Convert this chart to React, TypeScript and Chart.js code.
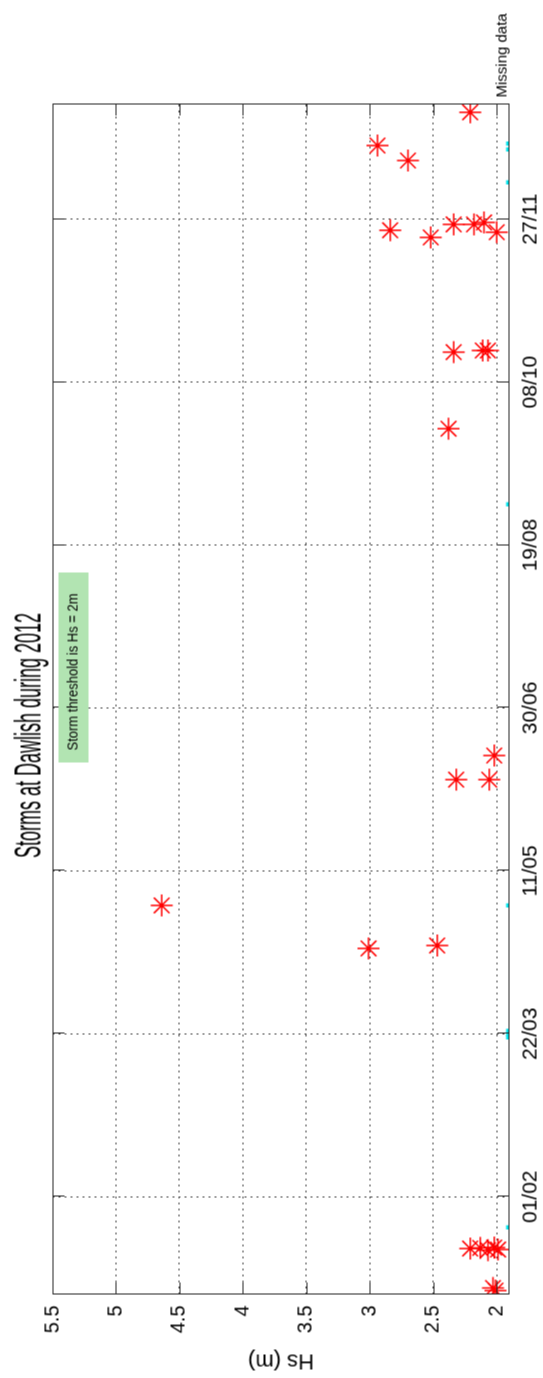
import React, { useEffect, useRef } from 'react';
import { Chart, registerables } from 'chart.js';

Chart.register(...registerables);

const titleText = 'Storms at Dawlish during 2012';
const yAxisTitle = 'Hs (m)';
const noteText = 'Storm threshold is Hs = 2m';
const missingLabel = 'Missing data';

// x = day of year 2012 (0 = 1 Jan)
const dateTickDays = [31, 81, 131, 181, 231, 281, 331];
const dateTickLabels = ['01/02', '22/03', '11/05', '30/06', '19/08', '08/10', '27/11'];
const hsTicks = [2, 2.5, 3, 3.5, 4, 4.5, 5, 5.5];
const hsTickLabels = ['2', '2.5', '3', '3.5', '4', '4.5', '5', '5.5'];

const stormDays = [
  2.2, 3.0,
  15.1, 15.3, 14.6, 15.4, 14.8,
  107.2, 108.1, 120.4,
  159.0, 159.0, 166.4,
  266.7, 290.2, 290.7, 290.7,
  325.4, 327.6, 329.4, 329.4, 330.0, 327.0,
  349.0, 353.6, 363.8,
];
const stormHs = [
  2.01, 2.03,
  2.21, 2.13, 2.07, 2.02, 1.99,
  3.01, 2.47, 4.64,
  2.32, 2.06, 2.02,
  2.38, 2.34, 2.11, 2.07,
  2.52, 2.84, 2.34, 2.18, 2.10, 2.00,
  2.70, 2.94, 2.21,
];

const missingDays = [21.6, 79.9, 80.9, 81.9, 120.4, 243.5, 342.3, 352.4, 354.2];
const missingHs = [1.91, 1.91, 1.91, 1.91, 1.91, 1.91, 1.91, 1.91, 1.91];

const W = 1378;
const H = 543;
const FONT = "'Liberation Sans', Arial, Helvetica, sans-serif";

export default function App() {
  const ref = useRef<HTMLCanvasElement>(null);

  useEffect(() => {
    document.body.style.margin = '0';
    const canvas = ref.current!;

    const overlay = {
      id: 'overlay',
      afterDraw(chart: any) {
        const { ctx, chartArea: a, scales } = chart;
        const xs = scales.x;
        const ys = scales.y;
        ctx.save();
        // axes box
        ctx.strokeStyle = '#262626';
        ctx.lineWidth = 1;
        ctx.strokeRect(a.left + 0.5, a.top + 0.5, a.right - a.left - 1, a.bottom - a.top - 1);
        // inward ticks
        ctx.beginPath();
        const tl = 12;
        dateTickDays.forEach((d) => {
          const px = Math.round(xs.getPixelForValue(d)) + 0.5;
          ctx.moveTo(px, a.bottom);
          ctx.lineTo(px, a.bottom - tl);
          ctx.moveTo(px, a.top);
          ctx.lineTo(px, a.top + tl);
        });
        hsTicks.forEach((v) => {
          const py = Math.round(ys.getPixelForValue(v)) + 0.5;
          ctx.moveTo(a.left, py);
          ctx.lineTo(a.left + tl, py);
          ctx.moveTo(a.right, py);
          ctx.lineTo(a.right - tl, py);
        });
        ctx.stroke();

        // title
        ctx.fillStyle = '#000';
        ctx.save();
        ctx.font = `18px ${FONT}`;
        ctx.textAlign = 'center';
        ctx.textBaseline = 'alphabetic';
        ctx.translate(643, 40);
        ctx.scale(1, 2.0);
        ctx.fillText(titleText, 0, 0);
        ctx.restore();

        // y axis title
        ctx.save();
        ctx.font = `22px ${FONT}`;
        ctx.textAlign = 'center';
        ctx.textBaseline = 'middle';
        ctx.translate(17.5, (a.top + a.bottom) / 2);
        ctx.rotate(-Math.PI / 2);
        ctx.fillText(yAxisTitle, 0, 0);
        ctx.restore();

        // missing data label
        ctx.save();
        ctx.font = `15px ${FONT}`;
        ctx.textAlign = 'left';
        ctx.textBaseline = 'alphabetic';
        ctx.fillText(missingLabel, 1281, 506);
        ctx.restore();

        // threshold note box
        ctx.save();
        ctx.fillStyle = 'rgb(178,228,178)';
        ctx.fillRect(616, 58, 190, 30);
        ctx.fillStyle = '#000';
        ctx.font = `13px ${FONT}`;
        ctx.textAlign = 'left';
        ctx.textBaseline = 'middle';
        ctx.translate(628, 73);
        ctx.scale(1, 1.15);
        ctx.fillText(noteText, 0, 0);
        ctx.restore();

        ctx.restore();
      },
    };

    const chart = new Chart(canvas, {
      type: 'scatter',
      data: {
        datasets: [
          {
            label: 'Storms',
            data: stormDays.map((d, i) => ({ x: d, y: stormHs[i] })),
            pointStyle: 'star',
            pointRadius: 11,
            pointHoverRadius: 11,
            borderColor: '#ff0000',
            backgroundColor: '#ff0000',
            pointBorderWidth: 1.5,
          },
          {
            label: missingLabel,
            data: missingDays.map((d, i) => ({ x: d, y: missingHs[i] })),
            pointStyle: 'rect',
            pointRadius: 3,
            pointHoverRadius: 3,
            borderWidth: 0,
            pointBorderWidth: 0,
            backgroundColor: 'rgb(0,228,236)',
            borderColor: 'rgb(0,228,236)',
          },
        ],
      },
      options: {
        responsive: false,
        animation: false,
        events: [],
        layout: { padding: { left: 0, top: 52, right: 103, bottom: 0 } },
        plugins: {
          legend: { display: false },
          tooltip: { enabled: false },
          title: { display: false },
        },
        scales: {
          x: {
            type: 'linear',
            min: 1,
            max: 366.5,
            afterFit: (s: any) => {
              s.height = 34;
            },
            afterBuildTicks: (s: any) => {
              s.ticks = dateTickDays.map((v) => ({ value: v }));
            },
            ticks: {
              autoSkip: false,
              maxRotation: 0,
              minRotation: 0,
              padding: 9,
              color: '#000',
              font: { family: FONT, size: 21 },
              callback: (v: any) => {
                const i = dateTickDays.indexOf(Number(v));
                return i >= 0 ? dateTickLabels[i] : '';
              },
            },
            grid: { color: '#444', lineWidth: 1, drawTicks: false },
            border: { display: false, dash: [2, 4] },
          },
          y: {
            type: 'linear',
            min: 1.9,
            max: 5.5,
            afterFit: (s: any) => {
              s.width = 84;
            },
            afterBuildTicks: (s: any) => {
              s.ticks = hsTicks.map((v) => ({ value: v }));
            },
            ticks: {
              autoSkip: false,
              padding: 11,
              color: '#000',
              font: { family: FONT, size: 20 },
              callback: (v: any) => {
                const i = hsTicks.indexOf(Number(v));
                return i >= 0 ? hsTickLabels[i] : '';
              },
            },
            grid: { color: '#444', lineWidth: 1, drawTicks: false },
            border: { display: false, dash: [2, 4] },
          },
        },
      },
      plugins: [overlay],
    } as any);

    return () => chart.destroy();
  }, []);

  return (
    <div
      style={{
        position: 'absolute',
        left: 0,
        top: 0,
        width: 543,
        height: 1378,
        overflow: 'hidden',
        background: '#fff',
      }}
    >
      <div
        style={{
          position: 'absolute',
          left: (543 - W) / 2,
          top: (1378 - H) / 2,
          width: W,
          height: H,
          transform: 'rotate(-90deg)',
          transformOrigin: '50% 50%',
        }}
      >
        <canvas ref={ref} width={W} height={H} style={{ display: 'block', width: W, height: H }} />
      </div>
    </div>
  );
}
